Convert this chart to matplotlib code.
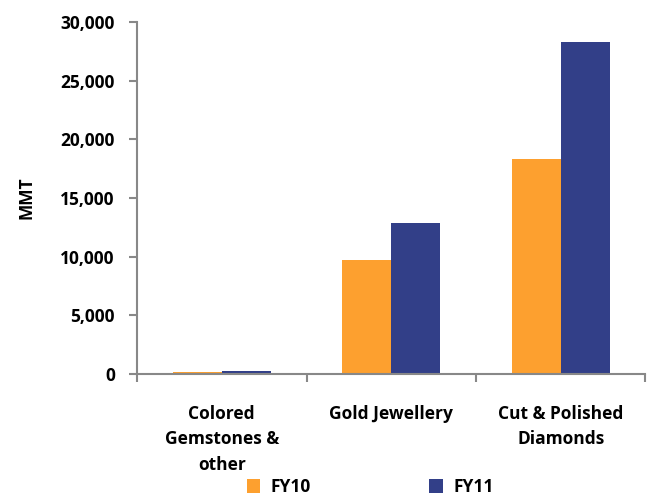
import matplotlib
matplotlib.use('Agg')
import matplotlib.pyplot as plt
from matplotlib.ticker import FuncFormatter, FixedLocator
import numpy as np

categories = ['Colored\nGemstones &\nother', 'Gold Jewellery', 'Cut & Polished\nDiamonds']
fy10 = [200, 9700, 18300]
fy11 = [280, 12900, 28300]
series_names = ['FY10', 'FY11']
colors = ['#FDA02F', '#323F88']

plt.rcParams['font.family'] = ['Open Sans', 'DejaVu Sans']
plt.rcParams['font.weight'] = 'bold'

fig = plt.figure(figsize=(6.54, 4.96), dpi=100)
ax = fig.add_axes([0.2095, 0.246, 0.7775, 0.7096])

x = np.arange(len(categories))
w = 0.29
b1 = ax.bar(x - w / 2, fy10, w, color=colors[0], label=series_names[0])
b2 = ax.bar(x + w / 2, fy11, w, color=colors[1], label=series_names[1])

ax.set_xlim(-0.5, len(categories) - 0.5)
ax.set_ylim(0, 30000)
ax.set_yticks(np.arange(0, 30001, 5000))
ax.yaxis.set_major_formatter(FuncFormatter(lambda v, p: '{:,.0f}'.format(v)))

# category labels centred, tick marks between groups
ax.xaxis.set_major_locator(FixedLocator(np.arange(-0.5, len(categories), 1.0)))
ax.set_xticklabels([])
ax.xaxis.set_minor_locator(FixedLocator(x))
ax.set_xticklabels(categories, minor=True, fontsize=12.5, fontweight='bold',
                   linespacing=1.55, va='top')
ax.tick_params(axis='x', which='minor', length=0, pad=22)
ax.tick_params(axis='x', which='major', length=6, color='#888888', width=1.5)
ax.tick_params(axis='y', length=6, color='#888888', width=1.5, labelsize=12.5, pad=10)

for s in ['top', 'right']:
    ax.spines[s].set_visible(False)
for s in ['left', 'bottom']:
    ax.spines[s].set_color('#888888')
    ax.spines[s].set_linewidth(1.5)

ax.set_ylabel('MMT', fontsize=12.5, fontweight='bold', labelpad=18)

fig.legend(handles=[b1, b2], loc='center', bbox_to_anchor=(0.566, 0.018), ncol=2,
           frameon=False, fontsize=12.5, handlelength=0.8, handleheight=0.8,
           handletextpad=0.6, columnspacing=6.8)

fig.savefig('out.png', dpi=100)
